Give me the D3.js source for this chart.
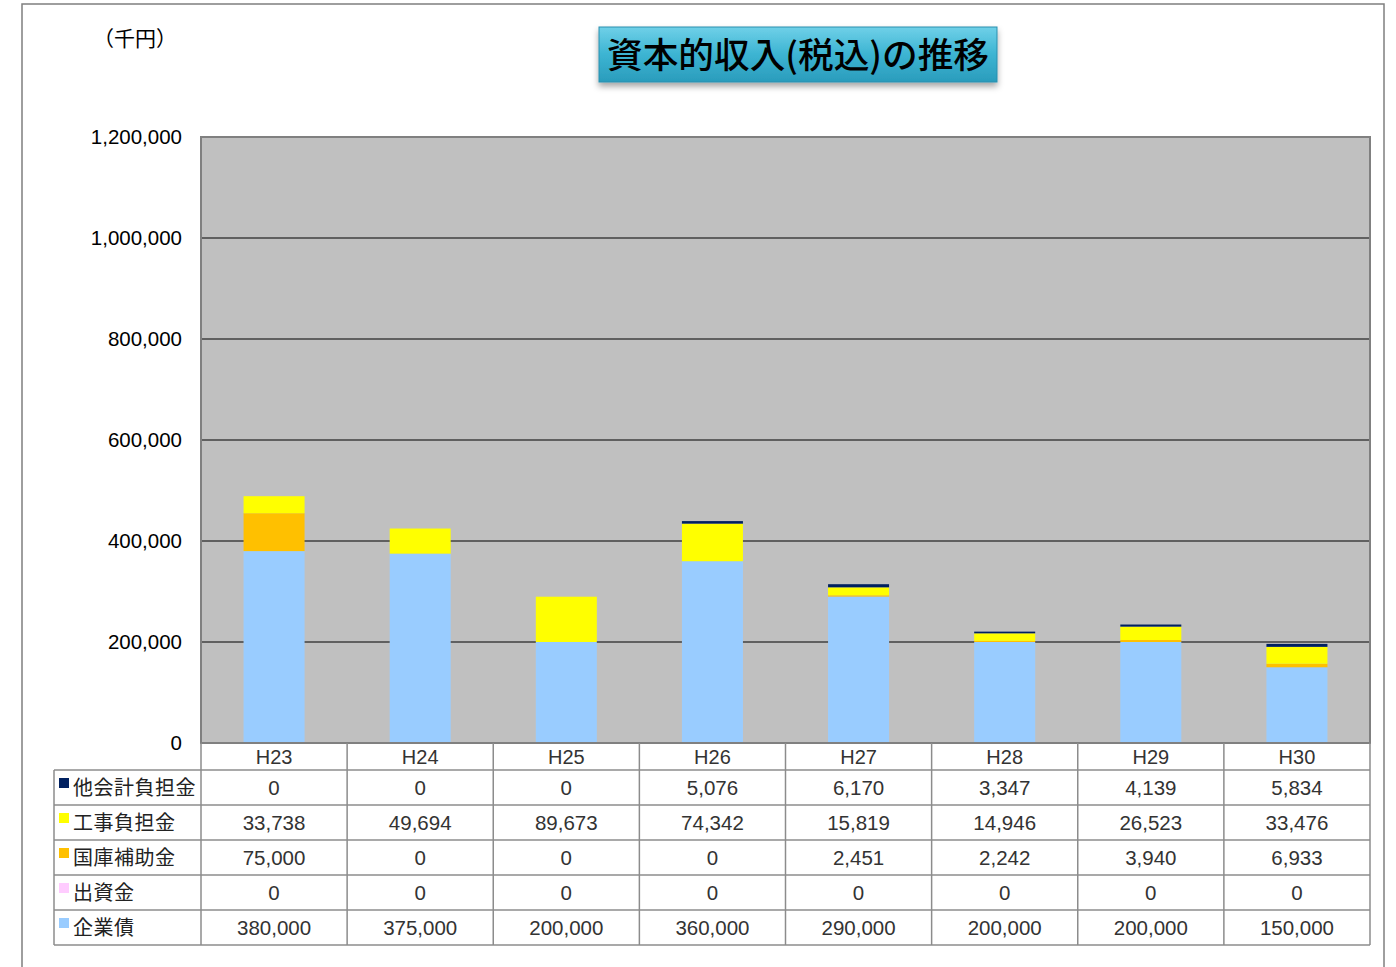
<!DOCTYPE html>
<html>
<head>
<meta charset="utf-8">
<script src="https://cdn.jsdelivr.net/npm/d3@7"></script>
<style>
  body { margin: 0; background: #fff; }
  text { font-family: "Noto Sans CJK JP", "Noto Sans", sans-serif; }
</style>
</head>
<body>
<div id="chart"></div>
<script>
const years = ["H23", "H24", "H25", "H26", "H27", "H28", "H29", "H30"];
const seriesNames = ["他会計負担金", "工事負担金", "国庫補助金", "出資金", "企業債"];
const tasyaFutan = [0, 0, 0, 5076, 6170, 3347, 4139, 5834];
const kojiFutan = [33738, 49694, 89673, 74342, 15819, 14946, 26523, 33476];
const kokko = [75000, 0, 0, 0, 2451, 2242, 3940, 6933];
const shusshi = [0, 0, 0, 0, 0, 0, 0, 0];
const kigyosai = [380000, 375000, 200000, 360000, 290000, 200000, 200000, 150000];
const yTicks = [0, 200000, 400000, 600000, 800000, 1000000, 1200000];

const seriesValues = [tasyaFutan, kojiFutan, kokko, shusshi, kigyosai];
const colors = ["#002060", "#ffff00", "#ffc000", "#ffccff", "#99ccff"];

const width = 1396, height = 967;
const plot = { left: 201, right: 1370, top: 137, bottom: 743 };
const numFont = "'Liberation Sans', Arial, sans-serif";

const svg = d3.select("#chart").append("svg")
  .attr("width", width)
  .attr("height", height);

// outer frame
svg.append("rect")
  .attr("x", 22).attr("y", 4)
  .attr("width", 1362).attr("height", 990)
  .attr("fill", "#fff")
  .attr("stroke", "#7f7f7f")
  .attr("stroke-width", 1.5);

const x = d3.scaleBand().domain(years).range([plot.left, plot.right]);
const y = d3.scaleLinear().domain([0, 1200000]).range([plot.bottom, plot.top]);

// plot background
svg.append("rect")
  .attr("x", plot.left).attr("y", plot.top)
  .attr("width", plot.right - plot.left).attr("height", plot.bottom - plot.top)
  .attr("fill", "#c0c0c0");

// gridlines
svg.append("g")
  .selectAll("line")
  .data(yTicks.slice(1, -1))
  .enter().append("line")
    .attr("x1", plot.left).attr("x2", plot.right)
    .attr("y1", d => y(d)).attr("y2", d => y(d))
    .attr("stroke", "#000")
    .attr("stroke-width", 1.2);

// stacked bars
const table = years.map((yr, i) => {
  const row = { year: yr };
  seriesNames.forEach((s, j) => row[s] = seriesValues[j][i]);
  return row;
});
const stack = d3.stack().keys(seriesNames.slice().reverse());
const stacked = stack(table);
const barW = 61;

svg.append("g")
  .selectAll("g")
  .data(stacked)
  .enter().append("g")
    .attr("fill", d => colors[seriesNames.indexOf(d.key)])
  .selectAll("rect")
  .data(d => d)
  .enter().append("rect")
    .attr("x", d => x(d.data.year) + x.bandwidth() / 2 - barW / 2)
    .attr("y", d => y(d[1]))
    .attr("width", barW)
    .attr("height", d => y(d[0]) - y(d[1]));

// plot border
svg.append("rect")
  .attr("x", plot.left).attr("y", plot.top)
  .attr("width", plot.right - plot.left).attr("height", plot.bottom - plot.top)
  .attr("fill", "none")
  .attr("stroke", "#808080")
  .attr("stroke-width", 2);

// y axis labels
const yAxis = d3.axisLeft(y)
  .tickValues(yTicks)
  .tickSize(0)
  .tickPadding(19)
  .tickFormat(d3.format(","));
svg.append("g")
  .attr("transform", `translate(${plot.left},0)`)
  .call(yAxis)
  .call(g => g.select(".domain").remove())
  .selectAll("text")
    .attr("font-size", 20.5)
    .attr("fill", "#000")
    .style("font-family", numFont);

// unit
svg.append("text")
  .attr("x", 135).attr("y", 46)
  .attr("text-anchor", "middle")
  .attr("font-size", 21)
  .text("（千円）");

// title box
const defs = svg.append("defs");
const grad = defs.append("linearGradient")
  .attr("id", "tgrad").attr("x1", 0).attr("y1", 0).attr("x2", 0).attr("y2", 1);
grad.append("stop").attr("offset", "0%").attr("stop-color", "#6fd0e8");
grad.append("stop").attr("offset", "50%").attr("stop-color", "#3cb4d2");
grad.append("stop").attr("offset", "100%").attr("stop-color", "#2a9cbc");
const shadow = defs.append("filter").attr("id", "shadow")
  .attr("x", "-10%").attr("y", "-20%").attr("width", "120%").attr("height", "160%");
shadow.append("feDropShadow")
  .attr("dx", 0).attr("dy", 4).attr("stdDeviation", 3)
  .attr("flood-color", "#000").attr("flood-opacity", 0.35);

svg.append("rect")
  .attr("x", 599).attr("y", 27)
  .attr("width", 398).attr("height", 55)
  .attr("fill", "url(#tgrad)")
  .attr("stroke", "#2a8fae")
  .attr("stroke-width", 1)
  .attr("filter", "url(#shadow)");
svg.append("text")
  .attr("x", 798).attr("y", 68)
  .attr("text-anchor", "middle")
  .attr("font-size", 35)
  .attr("font-weight", 500)
  .attr("fill", "#000")
  .attr("textLength", 382)
  .attr("lengthAdjust", "spacingAndGlyphs")
  .text("資本的収入(税込)の推移");

// data table
const tbl = { left: 54, top: 743, headH: 27, rowH: 35 };
const lineColor = "#8c8c8c";
const tg = svg.append("g");
const tableBottom = tbl.top + tbl.headH + tbl.rowH * seriesNames.length;

years.forEach(yr => {
  tg.append("line")
    .attr("x1", x(yr)).attr("x2", x(yr))
    .attr("y1", tbl.top).attr("y2", tableBottom)
    .attr("stroke", lineColor).attr("stroke-width", 1.5);
});
tg.append("line")
  .attr("x1", plot.right).attr("x2", plot.right)
  .attr("y1", tbl.top).attr("y2", tableBottom)
  .attr("stroke", lineColor).attr("stroke-width", 1.5);
tg.append("line")
  .attr("x1", tbl.left).attr("x2", tbl.left)
  .attr("y1", tbl.top + tbl.headH).attr("y2", tableBottom)
  .attr("stroke", lineColor).attr("stroke-width", 1.5);
for (let r = 0; r <= seriesNames.length; r++) {
  const yy = tbl.top + tbl.headH + r * tbl.rowH;
  tg.append("line")
    .attr("x1", tbl.left).attr("x2", plot.right)
    .attr("y1", yy).attr("y2", yy)
    .attr("stroke", lineColor).attr("stroke-width", 1.5);
}

// year headers
tg.selectAll("text.year")
  .data(years)
  .enter().append("text")
    .attr("class", "year")
    .attr("x", d => x(d) + x.bandwidth() / 2)
    .attr("y", tbl.top + 21)
    .attr("text-anchor", "middle")
    .attr("font-size", 20)
    .attr("fill", "#333")
    .style("font-family", numFont)
    .text(d => d);

// rows
const fmt = d3.format(",");
seriesNames.forEach((s, j) => {
  const rowTop = tbl.top + tbl.headH + j * tbl.rowH;
  tg.append("rect")
    .attr("x", 59).attr("y", rowTop + 8)
    .attr("width", 10).attr("height", 10)
    .attr("fill", colors[j]);
  tg.append("text")
    .attr("x", 73).attr("y", rowTop + 25)
    .attr("font-size", 20)
    .attr("fill", "#222")
    .attr("letter-spacing", 0.5)
    .text(s);
  tg.selectAll(null)
    .data(seriesValues[j])
    .enter().append("text")
      .attr("x", (d, i) => x(years[i]) + x.bandwidth() / 2)
      .attr("y", rowTop + 25)
      .attr("text-anchor", "middle")
      .attr("font-size", 20.5)
      .attr("fill", "#333")
      .style("font-family", numFont)
      .text(d => fmt(d));
});
</script>
</body>
</html>
